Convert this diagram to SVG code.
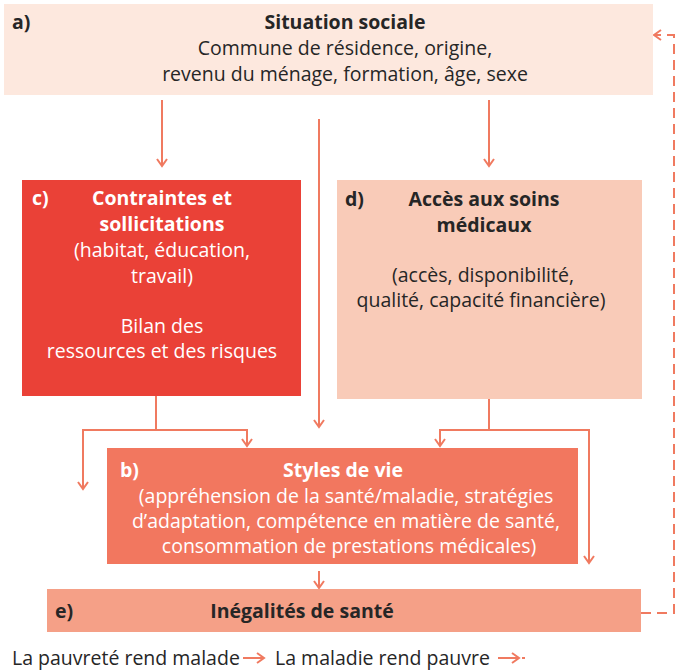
<svg xmlns="http://www.w3.org/2000/svg" width="675" height="670" viewBox="0 0 675 670">
<style>
text{font-family:"Open Sans","Noto Sans","Liberation Sans",sans-serif;font-size:19.5px;fill:#262626}
.b{font-weight:bold}
.w{fill:#ffffff}
.m{text-anchor:middle}
.c{fill:none;stroke:#f07a60;stroke-width:2}
.d{stroke-dasharray:10 6}
</style>
<defs>
<marker id="ah" viewBox="0 0 12 12" refX="10" refY="6" markerWidth="12" markerHeight="12" markerUnits="userSpaceOnUse" orient="auto">
<path d="M3,1 L10,6 L3,11" fill="none" stroke="#f07a60" stroke-width="2"/>
</marker>
</defs>
<rect width="675" height="670" fill="#ffffff"/>
<g id="connectors">
<line class="c" x1="162" y1="100" x2="162" y2="166" marker-end="url(#ah)"/>
<line class="c" x1="489" y1="100" x2="489" y2="166" marker-end="url(#ah)"/>
<line class="c" x1="319" y1="119" x2="319" y2="427" marker-end="url(#ah)"/>
<polyline class="c" points="156,396 156,430"/>
<polyline class="c" points="83,430 247,430 247,446" marker-end="url(#ah)"/>
<line class="c" x1="83" y1="429" x2="83" y2="489" marker-end="url(#ah)"/>
<polyline class="c" points="489,399 489,430"/>
<polyline class="c" points="440,430 589,430 589,563" marker-end="url(#ah)"/>
<line class="c" x1="440" y1="429" x2="440" y2="446" marker-end="url(#ah)"/>
<line class="c" x1="319" y1="571" x2="319" y2="588" marker-end="url(#ah)"/>
<polyline class="c d" points="641,613 674,613 674,35 654,35" marker-end="url(#ah)"/>
</g>
<g id="node-a">
<rect x="4" y="4" width="649" height="91" fill="#fde8de"/>
<text class="b" x="12" y="29">a)</text>
<text class="b m" x="345" y="29">Situation sociale</text>
<text class="m" x="345" y="55">Commune de résidence, origine,</text>
<text class="m" x="345" y="81">revenu du ménage, formation, âge, sexe</text>
</g>
<g id="node-c">
<rect x="22" y="180" width="279" height="216" fill="#ea4137"/>
<text class="b w" x="32" y="205">c)</text>
<text class="b w m" x="162" y="205">Contraintes et</text>
<text class="b w m" x="162" y="231">sollicitations</text>
<text class="w m" x="162" y="257">(habitat, éducation,</text>
<text class="w m" x="162" y="283">travail)</text>
<text class="w m" x="162" y="333">Bilan des</text>
<text class="w m" x="162" y="358">ressources et des risques</text>
</g>
<g id="node-d">
<rect x="337" y="180" width="305" height="219" fill="#f9cbb8"/>
<text class="b" x="345" y="206">d)</text>
<text class="b m" x="484" y="206">Accès aux soins</text>
<text class="b m" x="484" y="232">médicaux</text>
<text class="m" x="483" y="282">(accès, disponibilité,</text>
<text class="m" x="481" y="307">qualité, capacité financière)</text>
</g>
<g id="node-b">
<rect x="107" y="448" width="471" height="116" fill="#f2775f"/>
<text class="b w" x="120" y="477">b)</text>
<text class="b w m" x="343" y="477">Styles de vie</text>
<text class="w m" x="346" y="503">(appréhension de la santé/maladie, stratégies</text>
<text class="w m" x="346" y="528">d’adaptation, compétence en matière de santé,</text>
<text class="w m" x="349" y="553">consommation de prestations médicales)</text>
</g>
<g id="node-e">
<rect x="47" y="589" width="594" height="43" fill="#f5a087"/>
<text class="b" x="55" y="618">e)</text>
<text class="b m" x="302" y="618">Inégalités de santé</text>
</g>
<g id="legend">
<text x="12" y="665">La pauvreté rend malade</text>
<line class="c" x1="243" y1="658" x2="264" y2="658" marker-end="url(#ah)"/>
<text x="275" y="665">La maladie rend pauvre</text>
<line class="c" x1="498" y1="658" x2="519" y2="658" marker-end="url(#ah)"/>
<line class="c" x1="522" y1="658" x2="525" y2="658"/>
</g>
</svg>
